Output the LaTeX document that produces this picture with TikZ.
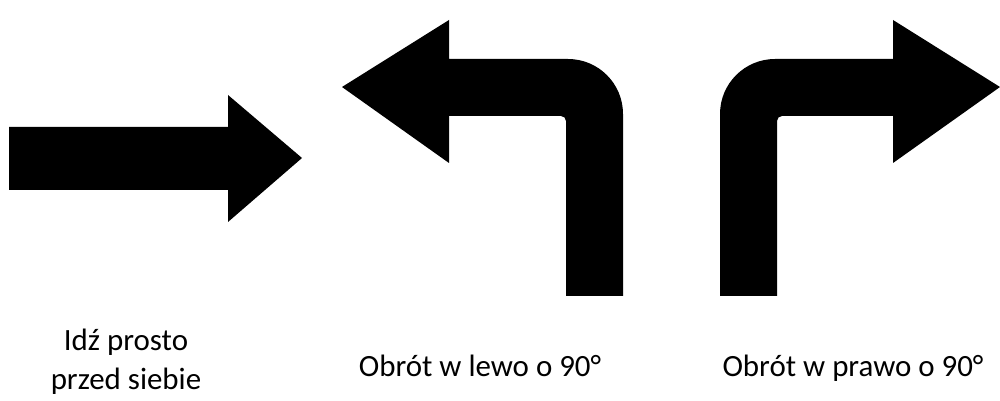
\documentclass[tikz,border=0pt]{standalone}
\usepackage{fontspec}
\setmainfont{Carlito}
\usepackage{tikz}

\begin{document}
\begin{tikzpicture}[
    x=0.02cm, y=-0.02cm,
    sign/.style={fill=black},
    txt/.style={align=center, inner sep=0pt, anchor=base, font=\fontsize{17.6}{22.2}\selectfont}
  ]
    \useasboundingbox (0,0) rectangle (1000,401);

    % straight on
    \fill[sign] (9,127) -- (228,127) -- (228,95) -- (302,158) -- (228,222) -- (228,190) -- (9,190) -- cycle;

    % turn left
    \fill[sign] (342,87) -- (449,20) -- (449,59) [rounded corners=1.1cm] -- (623,59) [sharp corners] -- (623,296) -- (566,296)
      [rounded corners=0.1cm] -- (566,116) [sharp corners] -- (449,116) -- (449,163) -- cycle;

    % turn right
    \fill[sign] (1000,87) -- (893,20) -- (893,59) [rounded corners=1.1cm] -- (720,59) [sharp corners] -- (720,296) -- (777,296)
      [rounded corners=0.1cm] -- (777,116) [sharp corners] -- (893,116) -- (893,163) -- cycle;

    \node[txt] (straight) at (126,390) {Idź prosto\\przed siebie};
    \node[txt] (left) at (480,377) {Obrót w lewo o 90°};
    \node[txt] (right) at (853,377) {Obrót w prawo o 90°};
  \end{tikzpicture}
\end{document}
